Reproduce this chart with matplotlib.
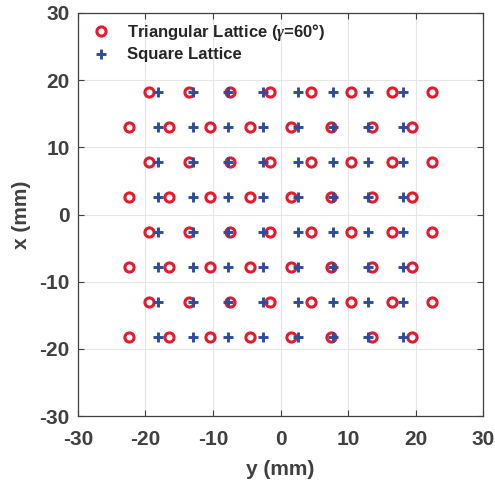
import numpy as np
import matplotlib.pyplot as plt

plt.rcParams['font.family'] = ['Liberation Sans', 'DejaVu Sans']
plt.rcParams['font.weight'] = 'bold'
plt.rcParams['axes.unicode_minus'] = False
plt.rcParams['mathtext.fontset'] = 'custom'
plt.rcParams['mathtext.it'] = 'Liberation Serif:italic'

# row positions along x (mm), shared by both lattices
row_x = [18.19, 12.99, 7.79, 2.60, -2.60, -7.79, -12.99, -18.19]

# triangular lattice: columns alternate between two offsets from row to row
tri_y_a = [-19.5, -13.5, -7.5, -1.5, 4.5, 10.5, 16.5, 22.5]
tri_y_b = [-22.5, -16.5, -10.5, -4.5, 1.5, 7.5, 13.5, 19.5]

# square lattice columns along y (mm)
sq_y = [-18.19, -12.99, -7.79, -2.60, 2.60, 7.79, 12.99, 18.19]

tri_x, tri_y = [], []
for i, xr in enumerate(row_x):
    cols = tri_y_a if i % 2 == 0 else tri_y_b
    tri_x += [xr] * len(cols)
    tri_y += cols

sq_x, sq_yy = [], []
for xr in row_x:
    sq_x += [xr] * len(sq_y)
    sq_yy += sq_y

red = '#e8192c'
blue = '#2c4d9e'
grey = '#404040'

fig = plt.figure(figsize=(4.95, 4.87), dpi=100)
ax = fig.add_axes([78 / 495, 1 - 416 / 487, 405 / 495, 403 / 487])

ax.plot(tri_y, tri_x, 'o', ms=6.6, mfc='none', mec=red, mew=2.2,
        label=r'Triangular Lattice ($\gamma$=60°)', zorder=3)
ax.plot(sq_yy, sq_x, '+', ms=6.8, color=blue, mew=2.1,
        label='Square Lattice', zorder=3)

ax.set_xlim(-30, 30)
ax.set_ylim(-30, 30)
ax.set_xticks(np.arange(-30, 31, 10))
ax.set_yticks(np.arange(-30, 31, 10))
ax.grid(True, color='#e6e6e6', lw=0.8)
ax.set_axisbelow(True)
ax.tick_params(direction='in', length=4, width=0.8, colors=grey,
               labelsize=15, top=True, right=True, pad=6)
ax.tick_params(axis='x', pad=10)
for lab in ax.get_xticklabels() + ax.get_yticklabels():
    lab.set_fontweight('bold')
for sp in ax.spines.values():
    sp.set_color(grey)
    sp.set_linewidth(0.9)

ax.set_xlabel('y (mm)', fontsize=15, fontweight='bold', color=grey, labelpad=8)
ax.set_ylabel('x (mm)', fontsize=15, fontweight='bold', color=grey, labelpad=6)

leg = ax.legend(loc='upper left', frameon=False, handlelength=1.6,
                handletextpad=0.8, borderaxespad=0.15, labelspacing=0.25,
                prop={'weight': 'bold', 'size': 12})
for t in leg.get_texts():
    t.set_color('#262626')

fig.savefig('out.png', dpi=100)
